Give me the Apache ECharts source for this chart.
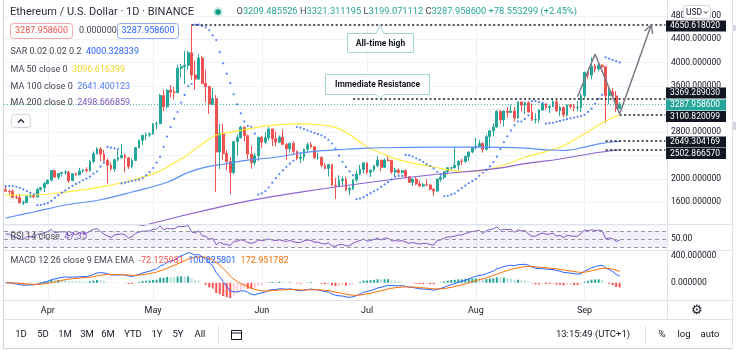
<!DOCTYPE html>
<html>
<head>
<meta charset="utf-8">
<title>Ethereum / U.S. Dollar</title>
<script src="https://cdn.jsdelivr.net/npm/echarts@6.0.0/dist/echarts.min.js"></script>
<style>
  html, body { margin: 0; padding: 0; background: #fff; }
  .echarts_1 { width: 736px; height: 350px; }
</style>
</head>
<body>
<div class="echarts_1"></div>
<script>
// 日K数据 2021-03-20 ~ 2021-09-11，每行 [开, 高, 低, 收]
var ohlc = [
  [1812,1875,1781,1787],[1787,1810,1726,1782],[1782,1820,1670,1681],[1681,1725,1650,1676],
  [1676,1740,1579,1585],[1585,1624,1546,1594],[1594,1710,1590,1700],[1700,1732,1672,1712],
  [1712,1723,1664,1688],[1688,1840,1676,1817],[1817,1860,1798,1846],[1846,1943,1772,1919],
  // 4月
  [1919,1988,1903,1977],[1977,2145,1955,2143],[2143,2145,2017,2028],[2028,2100,1987,2093],
  [2093,2120,2035,2108],[2108,2150,2070,2115],[2115,2135,1930,1968],[1968,2100,1960,2088],
  [2088,2110,2053,2071],[2071,2190,2060,2136],[2136,2160,2100,2157],[2157,2200,2110,2139],
  [2139,2320,2125,2299],[2299,2470,2270,2432],[2432,2545,2420,2514],[2514,2548,2300,2424],
  [2424,2497,2302,2317],[2317,2350,1920,2234],[2234,2280,2140,2171],[2171,2345,2120,2330],
  [2330,2490,2300,2365],[2365,2600,2340,2403],[2403,2435,2110,2363],[2363,2372,2170,2214],
  [2214,2350,2180,2316],[2316,2545,2305,2534],[2534,2675,2524,2662],[2662,2758,2580,2747],
  [2747,2798,2666,2756],[2756,2800,2720,2772],
  // 5月
  [2772,2950,2760,2945],[2945,2985,2855,2948],[2948,3460,2940,3431],[3431,3528,3160,3240],
  [3240,3542,3212,3524],[3524,3611,3400,3490],[3490,3580,3360,3484],[3484,3960,3470,3902],
  [3902,3972,3740,3928],[3928,4197,3630,3953],[3953,4200,3880,4168],[4168,4650.618,3702,3785],
  [3785,4030,3528,3715],[3715,4150,3696,4079],[4079,4117,3630,3639],[3639,3880,3315,3587],
  [3587,3597,3116,3282],[3282,3565,3262,3380],[3380,3440,1772,2460],[2460,2950,2165,2784],
  [2784,2945,2320,2434],[2434,2490,2143,2296],[2296,2375,1730,2110],[2110,2650,2076,2641],
  [2641,2760,2400,2708],[2708,2910,2691,2888],[2888,2895,2640,2741],[2741,2760,2340,2425],
  [2425,2570,2172,2278],[2278,2445,2230,2397],[2397,2725,2310,2711],
  // 6月
  [2711,2740,2535,2630],[2630,2800,2592,2706],[2706,2891,2660,2856],[2856,2860,2560,2689],
  [2689,2817,2558,2630],[2630,2743,2615,2715],[2715,2845,2580,2589],[2589,2620,2322,2517],
  [2517,2620,2450,2609],[2609,2645,2420,2472],[2472,2485,2320,2354],[2354,2450,2270,2373],
  [2373,2520,2310,2508],[2508,2620,2445,2585],[2585,2635,2525,2550],[2550,2560,2340,2364],
  [2364,2450,2325,2372],[2372,2380,2200,2230],[2230,2275,2165,2178],[2178,2255,2040,2245],
  [2245,2250,1880,1888],[1888,2015,1650,1875],[1875,2060,1855,1969],[1969,2040,1880,1990],
  [1990,2030,1790,1812],[1812,1865,1720,1829],[1829,1990,1805,1982],[1982,2135,1945,2083],
  [2083,2240,2060,2160],[2160,2282,2090,2274],
  // 7月
  [2274,2275,2075,2110],[2110,2160,2030,2150],[2150,2237,2120,2226],[2226,2390,2200,2321],
  [2321,2324,2130,2197],[2197,2350,2185,2324],[2324,2410,2300,2316],[2316,2320,2085,2116],
  [2116,2190,2050,2147],[2147,2180,2075,2111],[2111,2155,2090,2140],[2140,2160,2010,2035],
  [2035,2040,1930,1940],[1940,2010,1875,1995],[1995,2035,1890,1911],[1911,1972,1855,1876],
  [1876,1925,1855,1898],[1898,1995,1876,1895],[1895,1900,1800,1820],[1820,1840,1700,1788],
  [1788,2010,1777,1994],[1994,2050,1950,2026],[2026,2130,1995,2123],[2123,2200,2090,2188],
  [2188,2200,2130,2190],[2190,2550,2180,2233],[2233,2320,2150,2300],[2300,2345,2235,2298],
  [2298,2400,2275,2382],[2382,2468,2310,2460],[2460,2550,2440,2534],
  // 8月
  [2534,2700,2505,2556],[2556,2665,2550,2608],[2608,2630,2450,2506],[2506,2760,2485,2725],
  [2725,2840,2525,2827],[2827,2950,2730,2890],[2890,3180,2880,3158],[3158,3185,2950,3013],
  [3013,3180,2900,3163],[3163,3230,3055,3142],[3142,3275,3130,3164],[3164,3240,2985,3045],
  [3045,3330,3030,3322],[3322,3335,3155,3265],[3265,3330,3115,3310],[3310,3335,3140,3147],
  [3147,3295,2995,3012],[3012,3125,2950,3018],[3018,3195,2960,3183],[3183,3295,3170,3287],
  [3287,3300,3180,3225],[3225,3265,3130,3240],[3240,3375,3235,3325],[3325,3360,3150,3172],
  [3172,3250,3080,3227],[3227,3250,3060,3098],[3098,3280,3070,3270],[3270,3290,3205,3244],
  [3244,3290,3160,3225],[3225,3340,3160,3225],[3225,3470,3150,3433],
  // 9月
  [3433,3840,3385,3834],[3834,3840,3720,3787],[3787,4090,3710,3937],[3937,3975,3830,3888],
  [3888,3985,3850,3952],[3952,3970,3840,3927],[3927,3935,2958,3428],[3428,3560,3280,3497],
  [3497,3560,3400,3425],[3425,3505,3150,3209.485526],[3209.485526,3321.311195,3199.071112,3287.9586]
];

// 均线读数 [K线序号, 价格]
var ma50 = [[0,1720],[8,1722],[17,1770],[27,1858],[36,1975],[43,2110],[47,2236],[51,2380],[56,2600],
  [60,2750],[65,2810],[74,2906],[84,2945],[90,2925],[94,2885],[98,2760],[101,2630],[104,2520],
  [108,2420],[112,2325],[122,2203],[131,2125],[139,2180],[148,2370],[158,2545],[164,2740],[170,2960],[175,3097]];
var ma100 = [[0,1326],[8,1429],[17,1549],[27,1640],[36,1773],[46,1940],[52,2110],[57,2200],[62,2250],
  [69,2320],[77,2370],[86,2460],[95,2500],[103,2528],[115,2540],[129,2545],[140,2540],[148,2528],
  [155,2495],[160,2490],[165,2545],[170,2610],[175,2641]];
var ma200 = [[0,700],[20,960],[40,1210],[50,1360],[60,1500],[70,1630],[85,1780],[103,1932],
  [121,2065],[139,2170],[148,2260],[158,2340],[167,2435],[175,2499]];

// 走势示意折线
var pathPts = [['2021-08-30', 3412], ['2021-09-04', 4146], ['2021-09-11', 3115], ['2021-09-20', 4646]];

// 水平参考线 [起点日期, 价格, 颜色]
var levels = [
  ['2021-05-12', 4650.618020, '#131722'],
  ['2021-06-27', 3369.289030, '#131722'],
  ['2021-09-11', 3100.820099, '#131722'],
  ['2021-09-07', 2649.304169, '#131722'],
  ['2021-09-07', 2502.866570, '#131722']
];
var lastPrice = 3287.958600;

// 右侧价格标签 [文字, 中心y, 底色]
var priceTags = [
  ['4650.618020', 26, '#131722'],
  ['3369.289030', 93, '#131722'],
  ['3287.958600', 105, '#26a69a'],
  ['3100.820099', 116.5, '#131722'],
  ['2649.304169', 142, '#131722'],
  ['2502.866570', 153.5, '#131722']
];
var hiddenTicks = [1200, 2400, 3200];
var monthNames = ['Jan','Feb','Mar','Apr','May','Jun','Jul','Aug','Sep','Oct','Nov','Dec'];
var rangeBtns = [['1D',21],['5D',43],['1M',65],['3M',87],['6M',108],['YTD',133],['1Y',157],['5Y',178],['All',200]];

// 日期类目，右侧留白到 9月24日
var dates = [];
for (var i = 0; i < 189; i++) {
  dates.push(new Date(Date.UTC(2021, 2, 20 + i)).toISOString().slice(0, 10));
}

var closes = ohlc.map(function (r) { return r[3]; });

function ema(arr, n) {
  var k = 2 / (n + 1), prev = arr[0];
  return arr.map(function (v, i) { prev = i ? v * k + prev * (1 - k) : v; return prev; });
}
function calcRSI(arr, n) {
  var ag = 0, al = 0, d;
  for (var i = 1; i <= n; i++) { d = arr[i] - arr[i - 1]; if (d > 0) ag += d; else al -= d; }
  ag /= n; al /= n;
  var out = [100 - 100 / (1 + ag / al)];
  for (i = 1; i < arr.length; i++) {
    d = arr[i] - arr[i - 1];
    ag = (ag * (n - 1) + Math.max(d, 0)) / n;
    al = (al * (n - 1) + Math.max(-d, 0)) / n;
    out.push(al === 0 ? 100 : 100 - 100 / (1 + ag / al));
  }
  return out;
}
function calcSAR(rows, start, inc, maxAf) {
  var up = rows[1][3] >= rows[0][3];
  var af = start;
  var ep = up ? rows[0][1] : rows[0][2];
  var sar = up ? rows[0][2] : rows[0][1];
  var out = [sar];
  for (var i = 1; i < rows.length; i++) {
    var h = rows[i][1], l = rows[i][2];
    var nx = sar + af * (ep - sar);
    var p2 = i > 1 ? rows[i - 2] : rows[i - 1];
    if (up) {
      nx = Math.min(nx, rows[i - 1][2], p2[2]);
      if (l < nx) { up = false; nx = ep; ep = l; af = start; }
      else if (h > ep) { ep = h; af = Math.min(af + inc, maxAf); }
    } else {
      nx = Math.max(nx, rows[i - 1][1], p2[1]);
      if (h > nx) { up = true; nx = ep; ep = h; af = start; }
      else if (l < ep) { ep = l; af = Math.min(af + inc, maxAf); }
    }
    sar = nx;
    out.push(sar);
  }
  return out;
}

var sar = calcSAR(ohlc, 0.02, 0.02, 0.2);
var rsi = calcRSI(closes, 14);
var e12 = ema(closes, 12), e26 = ema(closes, 26);
var macd = e12.map(function (v, i) { return v - e26[i]; });
var signal = ema(macd, 9);
var hist = macd.map(function (v, i) { return v - signal[i]; });
var histData = hist.map(function (v, i) {
  var p = i ? hist[i - 1] : 0;
  var c = v >= 0 ? (v > p ? '#26a69a' : '#b2dfdb') : (v < p ? '#ff5252' : '#ffcdd2');
  return { value: v, itemStyle: { color: c } };
});

var isMonthStart = function (idx, val) { return val.slice(8) === '01'; };

var FONT = 'Roboto';
function txt(x, y, s, size, fill, align, weight, z) {
  return { type: 'text', x: x, y: y, silent: true, z: z || 100,
    style: { text: s, font: (weight || 'normal') + ' ' + size + 'px ' + FONT, fill: fill,
      align: align || 'left', verticalAlign: 'middle' } };
}
function richTxt(x, y, s, size, rich) {
  var r = {};
  Object.keys(rich).forEach(function (k) { r[k] = { fill: rich[k], color: rich[k], font: size + 'px ' + FONT }; });
  return { type: 'text', x: x, y: y, silent: true, z: 100,
    style: { text: s, font: size + 'px ' + FONT, verticalAlign: 'middle', rich: r } };
}
function hline(x1, y1, x2, y2, color) {
  return { type: 'line', silent: true, z: 90, shape: { x1: x1, y1: y1, x2: x2, y2: y2 },
    style: { stroke: color, lineWidth: 1 } };
}

var graphics = [];
// 面板分隔线与边框
graphics.push(hline(3, 224.5, 732, 224.5, '#e0e3eb'));
graphics.push(hline(3, 250.5, 732, 250.5, '#e0e3eb'));
graphics.push(hline(3, 300.5, 732, 300.5, '#e0e3eb'));
graphics.push(hline(3, 319.5, 732, 319.5, '#e0e3eb'));
graphics.push(hline(667.5, 0, 667.5, 319.5, '#e0e3eb'));
graphics.push(hline(3.5, 0, 3.5, 348, '#d1d4dc'));
graphics.push(hline(3, 348.5, 732, 348.5, '#d1d4dc'));
graphics.push(hline(732.5, 0, 732.5, 348, '#e0e3eb'));
graphics.push({ type: 'rect', silent: true, z: 90, shape: { x: 733, y: 25, width: 3, height: 6 }, style: { fill: '#d1d4dc' } });
graphics.push({ type: 'rect', silent: true, z: 90, shape: { x: 733, y: 122, width: 3, height: 8 }, style: { fill: '#d1d4dc' } });

// 标题和OHLC
graphics.push(txt(10, 12, 'Ethereum / U.S. Dollar · 1D · BINANCE', 11, '#2a2e39'));
graphics.push({ type: 'circle', silent: true, z: 100, shape: { cx: 218, cy: 12, r: 5 }, style: { fill: '#cdebe7' } });
graphics.push({ type: 'circle', silent: true, z: 101, shape: { cx: 218, cy: 12, r: 2.8 }, style: { fill: '#089981' } });
graphics.push(richTxt(236.5, 12,
  '{k|O}{v|3209.485526} {k|H}{v|3321.311195} {k|L}{v|3199.071112} {k|C}{v|3287.958600} {v|+78.553299 (+2.45%)}',
  9.3, { k: '#434651', v: '#26a69a' }));

// 价格框
graphics.push({ type: 'rect', silent: true, z: 100, shape: { x: 10.5, y: 23.5, width: 62, height: 15, r: 3 }, style: { fill: '#fff', stroke: '#f7a9a7' } });
graphics.push(txt(41.5, 31, '3287.958600', 9, '#ef5350', 'center', null, 101));
graphics.push(txt(79, 31, '0.000000', 9, '#434651'));
graphics.push({ type: 'rect', silent: true, z: 100, shape: { x: 117.5, y: 23.5, width: 61, height: 15, r: 3 }, style: { fill: '#fff', stroke: '#90a8f8' } });
graphics.push(txt(148, 31, '3287.958600', 9, '#2962ff', 'center', null, 101));

// 指标图例
graphics.push(richTxt(10.5, 52, '{g|SAR 0.02 0.02 0.2}  {v|4000.328339}', 9, { g: '#434651', v: '#2962ff' }));
graphics.push(richTxt(10.5, 70, '{g|MA 50 close 0}  {v|3096.616399}', 9, { g: '#434651', v: '#f2d530' }));
graphics.push(richTxt(10.5, 87, '{g|MA 100 close 0}  {v|2641.400123}', 9, { g: '#434651', v: '#4f7df6' }));
graphics.push(richTxt(10.5, 103, '{g|MA 200 close 0}  {v|2498.666859}', 9, { g: '#434651', v: '#7e57c2' }));
graphics.push({ type: 'rect', silent: true, z: 100, shape: { x: 11.5, y: 114.5, width: 19, height: 13, r: 3 }, style: { fill: '#fff', stroke: '#d1d4dc' } });
graphics.push({ type: 'polyline', silent: true, z: 101, shape: { points: [[18, 122.5], [21, 119.5], [24, 122.5]] }, style: { stroke: '#131722', lineWidth: 1.2, fill: null } });

// USD 按钮
graphics.push({ type: 'rect', silent: true, z: 110, shape: { x: 683.5, y: 5.5, width: 27, height: 13, r: 3 }, style: { fill: '#fff', stroke: '#d1d4dc' } });
graphics.push(txt(686, 12.5, 'USD', 8.5, '#131722', 'left', null, 111));
graphics.push({ type: 'polyline', silent: true, z: 111, shape: { points: [[704, 11.5], [705.7, 13.2], [707.4, 11.5]] }, style: { stroke: '#131722', lineWidth: 1, fill: null } });

// 右侧价格标签
priceTags.forEach(function (t) {
  graphics.push({ type: 'rect', silent: true, z: 105, shape: { x: 666, y: t[1] - 5.5, width: 60, height: 11 }, style: { fill: t[2] } });
  graphics.push(txt(670, t[1], t[0], 8.5, '#ffffff', 'left', null, 106));
});

// 标注框
graphics.push({ type: 'polygon', silent: true, z: 100,
  shape: { points: [[347.5, 33.5], [376, 33.5], [380, 25.5], [384, 33.5], [413.5, 33.5], [413.5, 52.5], [347.5, 52.5]] },
  style: { fill: '#fff', stroke: '#9fd8d1', lineWidth: 1 } });
graphics.push(txt(380.5, 43.5, 'All-time high', 8.5, '#131722', 'center', 'bold', 101));
graphics.push({ type: 'polygon', silent: true, z: 100,
  shape: { points: [[325.5, 74.5], [429.5, 74.5], [429.5, 94.5], [384, 94.5], [380, 98.5], [376, 94.5], [325.5, 94.5]] },
  style: { fill: '#fff', stroke: '#9fd8d1', lineWidth: 1 } });
graphics.push(txt(377.5, 84.5, 'Immediate Resistance', 8.5, '#131722', 'center', 'bold', 101));

// RSI / MACD 图例
graphics.push(richTxt(10.5, 237, '{g|RSI 14 close}  {v|47.35}', 9, { g: '#434651', v: '#7e57c2' }));
graphics.push(richTxt(10.5, 261, '{g|MACD 12 26 close 9 EMA EMA}  {r|-72.125981}  {b|100.825801}  {o|172.951782}', 9,
  { g: '#434651', r: '#ff5252', b: '#2962ff', o: '#ff6d00' }));

// 齿轮
graphics.push(txt(697, 311, '\u2699', 13, '#131722', 'center'));

// 底部工具栏
rangeBtns.forEach(function (b) { graphics.push(txt(b[1], 335, b[0], 9.5, '#131722', 'center')); });
graphics.push(hline(218.5, 326, 218.5, 344, '#e0e3eb'));
graphics.push({ type: 'rect', silent: true, z: 100, shape: { x: 231.5, y: 330.5, width: 10, height: 9 }, style: { fill: null, stroke: '#131722', lineWidth: 1 } });
graphics.push(hline(231.5, 333, 241.5, 333, '#131722'));
graphics.push(txt(593, 335, '13:15:49 (UTC+1)', 9.5, '#131722', 'center'));
graphics.push(hline(645.5, 326, 645.5, 344, '#e0e3eb'));
graphics.push(txt(662, 335, '%', 9.5, '#131722', 'center'));
graphics.push(txt(684, 335, 'log', 9.5, '#131722', 'center'));
graphics.push(txt(710, 335, 'auto', 9.5, '#131722', 'center'));

// 参考线
var levelLines = levels.map(function (lv) {
  return [
    { coord: [lv[0], lv[1]], lineStyle: { color: lv[2], type: [2, 2.5], width: 1.6 } },
    { coord: [dates[dates.length - 1], lv[1]] }
  ];
});
levelLines.push({ yAxis: lastPrice, lineStyle: { color: '#26a69a', type: [1, 2], width: 1, opacity: 0.8 } });

var gridBase = { left: 4, right: 69, containLabel: false, outerBoundsMode: 'none' };
function mkGrid(top, height) { var g = Object.assign({}, gridBase); g.top = top; g.height = height; return g; }

function mkX(gi) {
  return {
    type: 'category', gridIndex: gi, data: dates,
    axisLine: { show: false }, axisTick: { show: false },
    axisLabel: { show: gi === 2, interval: isMonthStart, margin: 6, fontSize: 9, color: '#131722', fontFamily: FONT,
      formatter: function (v) { return monthNames[+v.slice(5, 7) - 1]; } },
    splitLine: { show: true, interval: isMonthStart, alignWithLabel: true, lineStyle: { color: '#eef0f4', width: 1 } }
  };
}

var chart = echarts.init(document.querySelector('.echarts_1'));
var option = {
  animation: false,
  backgroundColor: '#ffffff',
  textStyle: { fontFamily: FONT },
  grid: [mkGrid(16, 209.3), mkGrid(224.5, 26), mkGrid(250.5, 50)],
  xAxis: [mkX(0), mkX(1), mkX(2)],
  yAxis: [
    { type: 'value', gridIndex: 0, position: 'right', min: 1200, max: 4800, interval: 400, scale: false,
      axisLine: { show: false }, axisTick: { show: false },
      splitLine: { lineStyle: { color: '#f0f3fa' } },
      axisLabel: { margin: 4, fontSize: 8.5, color: '#131722', fontFamily: FONT,
        formatter: function (v) { return hiddenTicks.indexOf(v) >= 0 ? '' : v.toFixed(6); } } },
    { type: 'value', gridIndex: 1, position: 'right', min: 22.5, max: 86.25,
      axisLine: { show: false }, axisTick: { show: false }, splitLine: { show: false },
      axisLabel: { customValues: [50], margin: 4, fontSize: 8.5, color: '#131722', fontFamily: FONT,
        formatter: function (v) { return v.toFixed(2); } } },
    { type: 'value', gridIndex: 2, position: 'right', min: -266, max: 486,
      axisLine: { show: false }, axisTick: { show: false }, splitLine: { show: false },
      axisLabel: { customValues: [0, 400], margin: 4, fontSize: 8.5, color: '#131722', fontFamily: FONT,
        formatter: function (v) { return v.toFixed(6); } } }
  ],
  series: [
    {
      name: 'ETHUSD', type: 'candlestick', xAxisIndex: 0, yAxisIndex: 0, barWidth: '66%',
      data: ohlc.map(function (r) { return [r[0], r[3], r[2], r[1]]; }),
      itemStyle: { color: '#26a69a', color0: '#ef5350', borderColor: '#26a69a', borderColor0: '#ef5350', borderWidth: 1 },
      markLine: { silent: true, symbol: ['none', 'none'], label: { show: false }, data: levelLines }
    },
    { name: 'SAR', type: 'scatter', xAxisIndex: 0, yAxisIndex: 0, data: sar, symbolSize: 2.2,
      itemStyle: { color: '#2962ff' }, z: 4 },
    { name: 'MA50', type: 'line', xAxisIndex: 0, yAxisIndex: 0, data: ma50, smooth: 0.4, showSymbol: false,
      lineStyle: { color: '#ffeb3b', width: 1.2 }, z: 3 },
    { name: 'MA100', type: 'line', xAxisIndex: 0, yAxisIndex: 0, data: ma100, smooth: 0.4, showSymbol: false,
      lineStyle: { color: '#5b8ff9', width: 1.2 }, z: 3 },
    { name: 'MA200', type: 'line', xAxisIndex: 0, yAxisIndex: 0, data: ma200, smooth: 0.4, showSymbol: false,
      lineStyle: { color: '#8c63d2', width: 1.2 }, z: 3 },
    { name: 'path', type: 'line', xAxisIndex: 0, yAxisIndex: 0, data: pathPts, showSymbol: false,
      lineStyle: { color: '#787b86', width: 1.5 }, z: 6 },
    {
      name: 'RSI', type: 'line', xAxisIndex: 1, yAxisIndex: 1, data: rsi, showSymbol: false,
      lineStyle: { color: '#7e57c2', width: 1 },
      markArea: { silent: true, itemStyle: { color: 'rgba(126,87,194,0.09)' }, data: [[{ yAxis: 30 }, { yAxis: 70 }]] },
      markLine: { silent: true, symbol: ['none', 'none'], label: { show: false },
        lineStyle: { color: '#9598a1', type: [4, 3], width: 1 },
        data: [{ yAxis: 70 }, { yAxis: 50 }, { yAxis: 30 }] }
    },
    { name: 'Hist', type: 'bar', xAxisIndex: 2, yAxisIndex: 2, data: histData, barWidth: 2 },
    { name: 'MACD', type: 'line', xAxisIndex: 2, yAxisIndex: 2, data: macd, showSymbol: false,
      lineStyle: { color: '#2962ff', width: 1 } },
    { name: 'Signal', type: 'line', xAxisIndex: 2, yAxisIndex: 2, data: signal, showSymbol: false,
      lineStyle: { color: '#ff6d00', width: 1 } }
  ],
  graphic: graphics
};
chart.setOption(option);

// 箭头
var tip = chart.convertToPixel({ gridIndex: 0 }, pathPts[3]);
var prev = chart.convertToPixel({ gridIndex: 0 }, pathPts[2]);
var ang = Math.atan2(prev[1] - tip[1], prev[0] - tip[0]);
var headLen = 9;
chart.setOption({ graphic: [{
  id: 'arrowHead', type: 'polyline', silent: true, z: 95,
  shape: { points: [
    [tip[0] + headLen * Math.cos(ang + 0.5), tip[1] + headLen * Math.sin(ang + 0.5)],
    tip,
    [tip[0] + headLen * Math.cos(ang - 0.5), tip[1] + headLen * Math.sin(ang - 0.5)]
  ] },
  style: { stroke: '#787b86', lineWidth: 1.5, fill: null }
}] });
</script>
</body>
</html>
